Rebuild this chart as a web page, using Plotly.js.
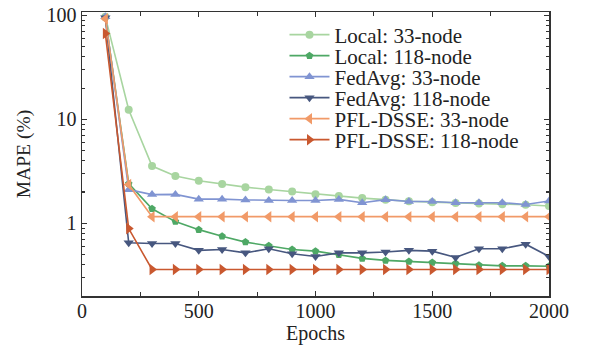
<!DOCTYPE html>
<html>
<head>
<meta charset="utf-8">
<script src="https://cdn.plot.ly/plotly-3.0.1.min.js"></script>
<style>html,body{margin:0;padding:0;background:#fff;}#chart{width:589px;height:347px;}</style>
</head>
<body>
<div id="chart"></div>
<script>
const epochs = [100,200,300,400,500,600,700,800,900,1000,1100,1200,1300,1400,1500,1600,1700,1800,1900,2000];
const local33 = [97,12.4,3.56,2.85,2.57,2.39,2.23,2.12,2.02,1.91,1.83,1.75,1.69,1.63,1.6,1.57,1.55,1.53,1.51,1.47];
const local118 = [95,2.41,1.38,1.04,0.87,0.75,0.66,0.61,0.56,0.54,0.50,0.46,0.44,0.43,0.42,0.41,0.395,0.39,0.39,0.386];
const fedavg33 = [97,2.11,1.89,1.90,1.71,1.71,1.68,1.66,1.66,1.66,1.70,1.58,1.69,1.62,1.62,1.58,1.58,1.58,1.52,1.64];
const fedavg118 = [95,0.65,0.64,0.64,0.55,0.56,0.52,0.57,0.51,0.48,0.52,0.52,0.53,0.55,0.54,0.47,0.57,0.57,0.63,0.48];
const pfl33 = [93,2.36,1.16,1.16,1.16,1.16,1.16,1.16,1.16,1.16,1.16,1.16,1.16,1.16,1.16,1.16,1.16,1.16,1.16,1.16];
const pfl118 = [67,0.89,0.36,0.36,0.36,0.36,0.36,0.36,0.36,0.36,0.36,0.36,0.36,0.36,0.36,0.36,0.36,0.36,0.36,0.36];
const seriesNames = ["Local: 33-node","Local: 118-node","FedAvg: 33-node","FedAvg: 118-node","PFL-DSSE: 33-node","PFL-DSSE: 118-node"];
const xTitle = "Epochs";
const yTitle = "MAPE (%)";

const colors = ["#a8d5a0","#4ea865","#8094d2","#47577f","#f19a68","#c9582f"];
const symbols = ["circle","pentagon","triangle-up","triangle-down","triangle-left","triangle-right"];
const sizes = [8,8,9,9,10,10];
const data = [local33, local118, fedavg33, fedavg118, pfl33, pfl118];
const legendIds = ["legend","legend2","legend3","legend4","legend5","legend6"];

const fam = '"Liberation Serif", "Times New Roman", serif';
const traces = data.map((ys,i)=>({
  x: epochs, y: ys, name: seriesNames[i], type:'scatter', mode:'lines+markers',
  legend: legendIds[i],
  line:{color:colors[i], width:1.6},
  marker:{color:colors[i], symbol:symbols[i], size:sizes[i]}
}));

const rowY = [35, 56, 77, 98, 119, 140];
const plotTop = 12, plotBottom = 296;
const layout = {
  width:589, height:347,
  margin:{l:82, r:40, t:plotTop, b:347-plotBottom},
  paper_bgcolor:'#fff', plot_bgcolor:'#fff',
  font: {family:fam, color:'#222', size:20},
  showlegend:true,
  xaxis:{
    range:[0,2000], dtick:500, tick0:0, ticks:'inside', ticklen:5, tickwidth:1.2, tickcolor:'#333',
    showline:true, linecolor:'#333', linewidth:1.5, mirror:'ticks', showgrid:false, zeroline:false,
    minor:{dtick:250, ticks:'inside', ticklen:4, tickcolor:'#333', showgrid:false},
    tickfont:{family:fam, size:20, color:'#222'}, ticklabelstandoff:-4,
    title:{text:xTitle, font:{family:fam, size:20, color:'#222'}, standoff:4}
  },
  yaxis:{
    type:'log', range:[Math.log10(0.2), Math.log10(108)], dtick:1, ticks:'inside', ticklen:5, tickwidth:1.2, tickcolor:'#333',
    showline:true, linecolor:'#333', linewidth:1.5, mirror:'ticks', showgrid:false, zeroline:false,
    minor:{dtick:'D1', ticks:'inside', ticklen:3, tickcolor:'#333', showgrid:false},
    tickfont:{family:fam, size:20, color:'#222'},
    title:{text:yTitle, font:{family:fam, size:19.5, color:'#222'}, standoff:10}
  }
};
legendIds.forEach((id,i)=>{
  layout[id] = {
    x:0.4336, xanchor:'left',
    y:(plotBottom-rowY[i])/(plotBottom-plotTop), yanchor:'middle',
    bgcolor:'rgba(0,0,0,0)', borderwidth:0, itemwidth:40,
    font:{family:fam, size:21, color:'#222'}
  };
});
Plotly.newPlot('chart', traces, layout, {displayModeBar:false, staticPlot:true});
</script>
</body>
</html>
